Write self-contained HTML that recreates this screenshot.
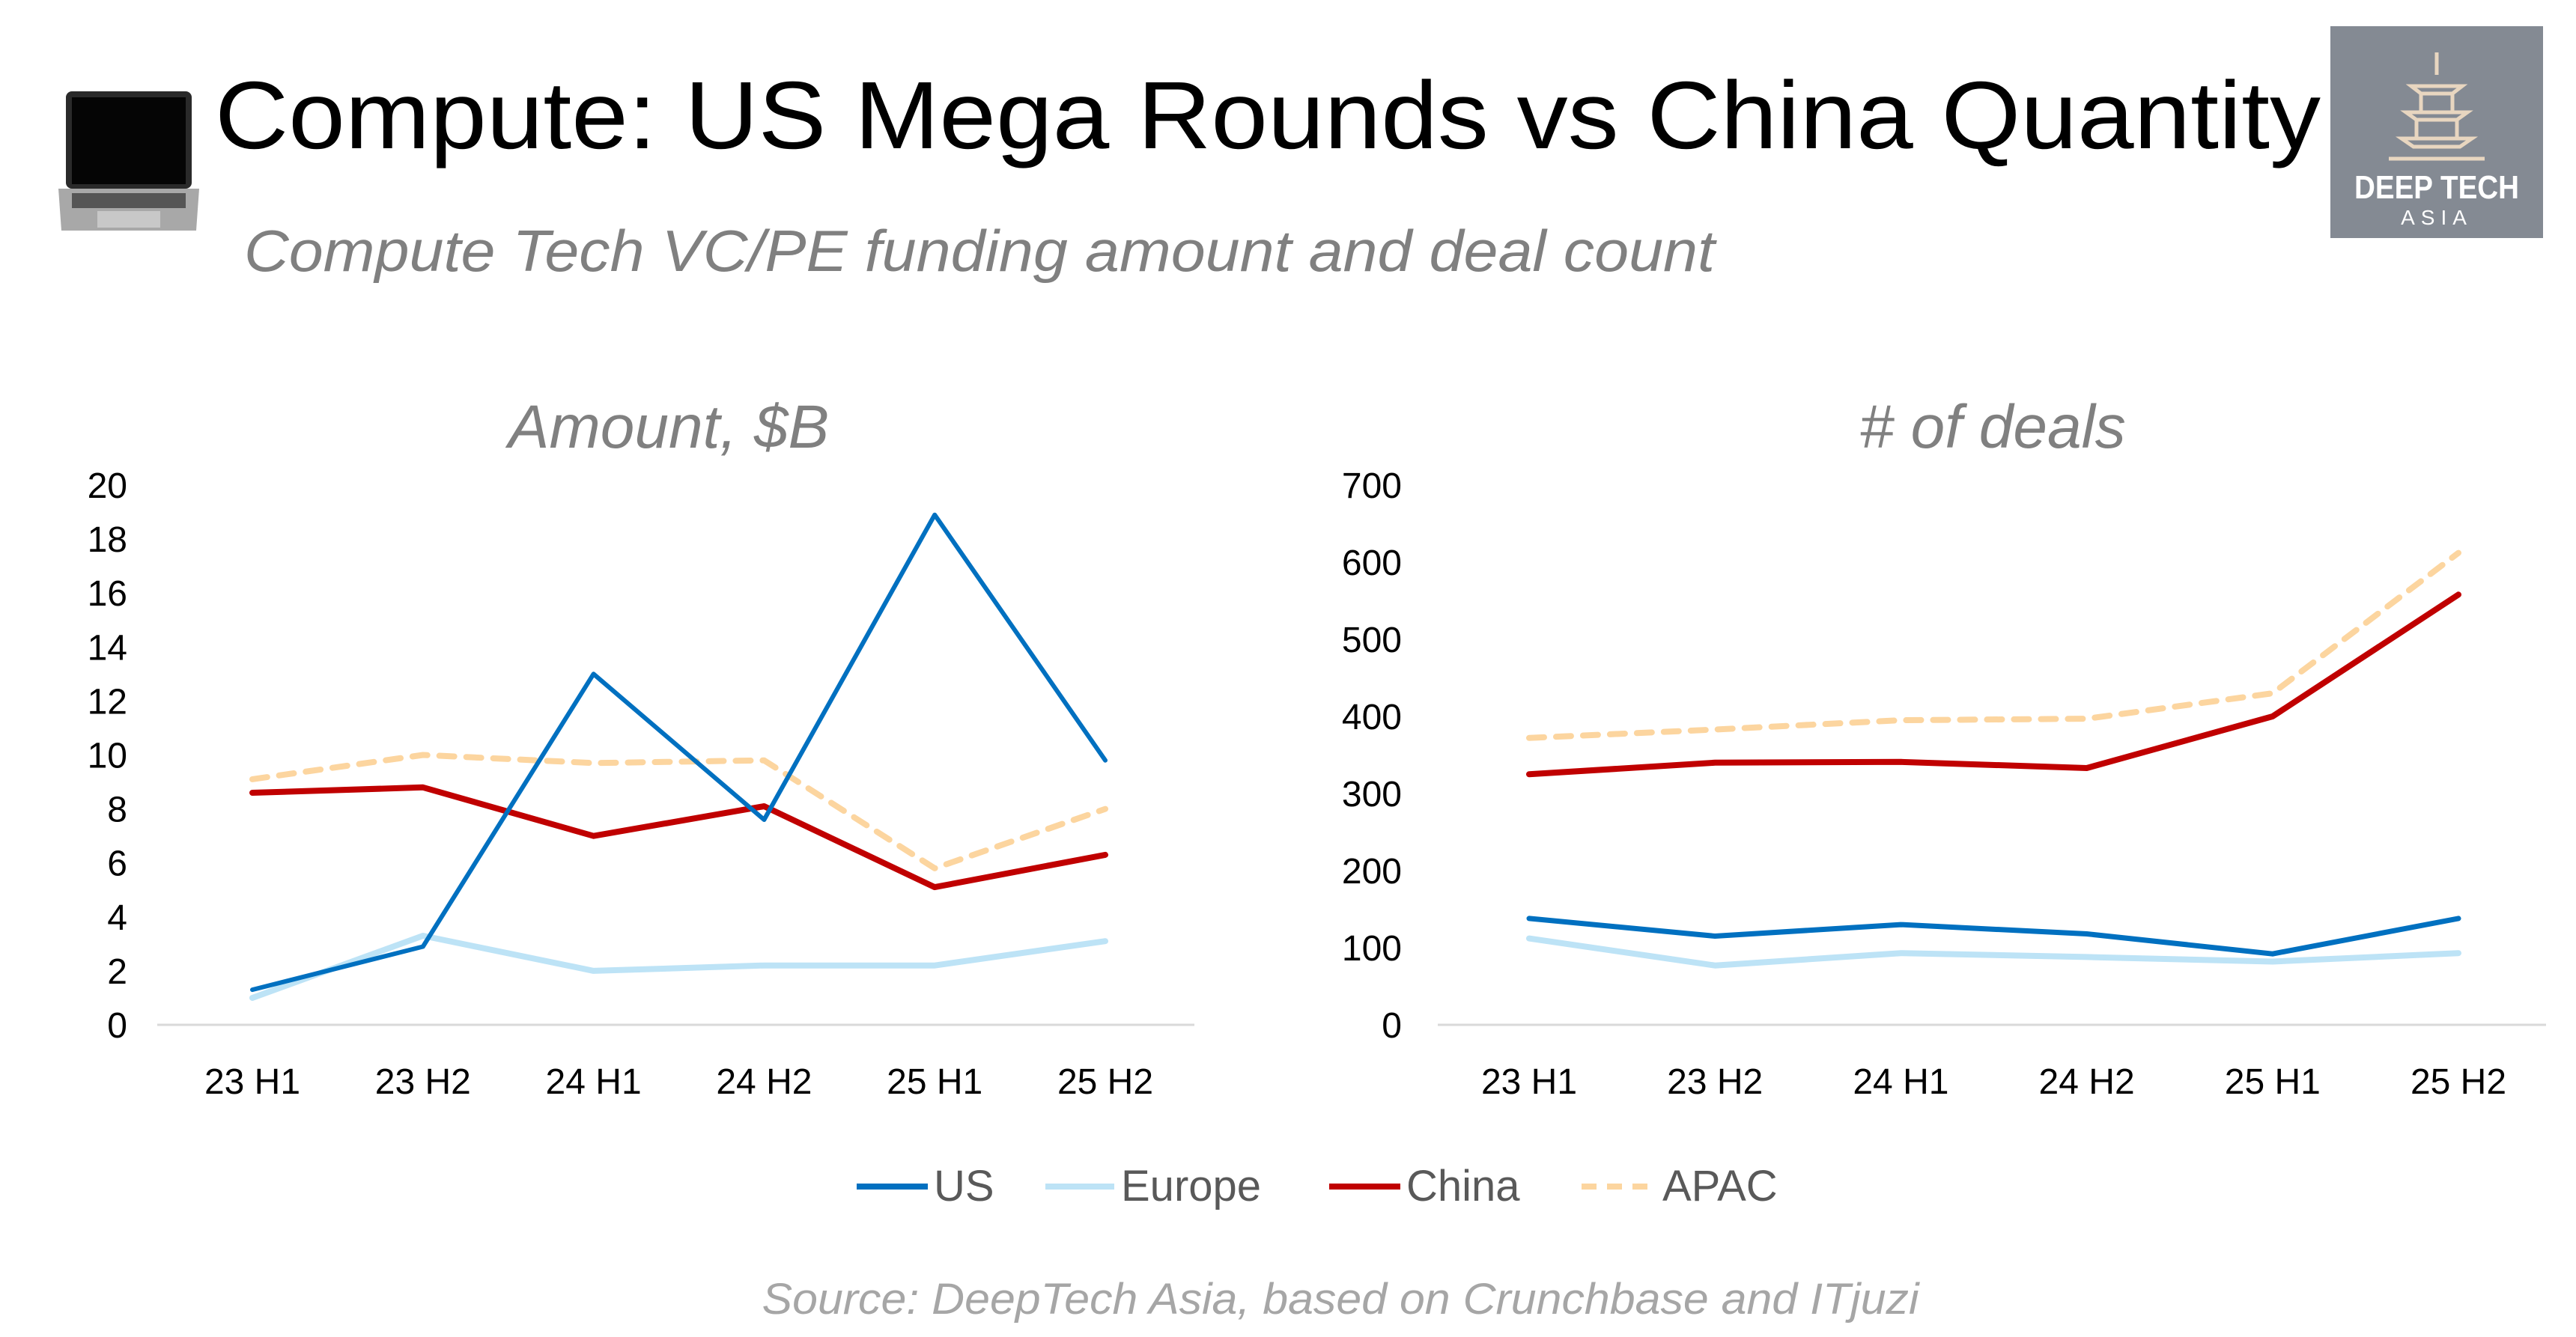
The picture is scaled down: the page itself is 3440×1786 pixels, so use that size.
<!DOCTYPE html>
<html><head><meta charset="utf-8"><style>
html,body{margin:0;padding:0;background:#fff;}
svg{display:block;font-family:"Liberation Sans",sans-serif;}
</style></head><body>
<svg id="chart" width="3440" height="1786" viewBox="0 0 3440 1786" xmlns="http://www.w3.org/2000/svg">
<g>
<rect x="88" y="122" width="168" height="130" rx="8" fill="#2a2a2a"/>
<rect x="96" y="130" width="152" height="116" fill="#050505"/>
<polygon points="78,252 266,252 262,308 82,308" fill="#a8a8a8"/>
<rect x="96" y="258" width="152" height="20" fill="#555"/>
<rect x="130" y="282" width="84" height="22" fill="#c8c8c8"/>
</g>
<text x="287" y="198" font-size="128" fill="#000" textLength="2812" lengthAdjust="spacingAndGlyphs">Compute: US Mega Rounds vs China Quantity</text>
<text x="326" y="362" font-size="78" font-style="italic" fill="#808080" textLength="1964" lengthAdjust="spacingAndGlyphs">Compute Tech VC/PE funding amount and deal count</text>
<g transform="translate(-15,0)">
<rect x="3127" y="35" width="284" height="283" fill="#848a93"/>
<path d="M3269 70 L3269 100 M3235 115 L3303 115 L3290 125 L3248 125 Z M3228 150 L3310 150 L3296 160 L3242 160 Z M3222 185 L3316 185 L3300 196 L3238 196 Z M3248 125 L3248 150 M3290 125 L3290 150 M3242 160 L3242 185 M3296 160 L3296 185 M3205 212 L3333 212" stroke="#e8d6c0" stroke-width="5" fill="none"/>
<text x="3269" y="265" font-size="44" font-weight="bold" fill="#fff" text-anchor="middle" textLength="220" lengthAdjust="spacingAndGlyphs">DEEP TECH</text>
<text x="3269" y="300" font-size="28" fill="#fff" text-anchor="middle" letter-spacing="8">ASIA</text>
</g>
<g id="left"></g>
<g id="right"></g>
<g>
<g><line x1="1144" y1="1585" x2="1239" y2="1585" stroke="#0070c0" stroke-width="8"/><text x="1247" y="1604" font-size="58" fill="#595959">US</text></g>
<g><line x1="1396" y1="1585" x2="1488" y2="1585" stroke="#bde3f6" stroke-width="8"/><text x="1497" y="1604" font-size="58" fill="#595959">Europe</text></g>
<g><line x1="1775" y1="1585" x2="1870" y2="1585" stroke="#c00000" stroke-width="8"/><text x="1878" y="1604" font-size="58" fill="#595959">China</text></g>
<g><line x1="2112" y1="1585" x2="2205" y2="1585" stroke="#fcd59f" stroke-width="8" stroke-dasharray="20,14"/><text x="2220" y="1604" font-size="58" fill="#595959">APAC</text></g>
</g>
<text x="1790" y="1755" font-size="58" font-style="italic" fill="#a6a6a6" text-anchor="middle" textLength="1545" lengthAdjust="spacingAndGlyphs">Source: DeepTech Asia, based on Crunchbase and ITjuzi</text>
</svg>
<script>
const categories = ["23 H1","23 H2","24 H1","24 H2","25 H1","25 H2"];
const amountUS = [1.3, 2.9, 13.0, 7.6, 18.9, 9.8];
const amountEurope = [1.0, 3.3, 2.0, 2.2, 2.2, 3.1];
const amountChina = [8.6, 8.8, 7.0, 8.1, 5.1, 6.3];
const amountAPAC = [9.1, 10.0, 9.7, 9.8, 5.8, 8.0];
const amountTicks = [0,2,4,6,8,10,12,14,16,18,20];
const dealsUS = [138, 115, 130, 118, 92, 138];
const dealsEurope = [112, 77, 93, 88, 82, 93];
const dealsChina = [325, 340, 341, 333, 400, 558];
const dealsAPAC = [372, 383, 395, 397, 430, 612];
const dealsTicks = [0,100,200,300,400,500,600,700];

const NS = "http://www.w3.org/2000/svg";
function mk(tag, attrs, parent){const e=document.createElementNS(NS,tag);for(const k in attrs)e.setAttribute(k,attrs[k]);parent.appendChild(e);return e;}

function drawChart(g, cfg, series, ticks, title){
  const y0=1369, y1=648;
  const maxV=ticks[ticks.length-1];
  const yS=v=>y0-(v/maxV)*(y0-y1);
  const xS=i=>cfg.x0+i*(cfg.x1-cfg.x0)/(categories.length-1);
  const t=mk("text",{x:cfg.tx,y:598,"font-size":82,"font-style":"italic",fill:"#808080","text-anchor":"middle"},g);
  t.textContent=title;
  
  
  const ax=mk("line",{x1:cfg.a0,x2:cfg.a1,y1:y0,y2:y0,stroke:"#d9d9d9","stroke-width":3},g);
  
  
  ticks.forEach(v=>{
    const tt=mk("text",{x:cfg.tickX,y:yS(v)+17,"font-size":48,fill:"#000","text-anchor":"end"},g);
    tt.textContent=v;
    
    
  });
  categories.forEach((c,i)=>{
    const ct=mk("text",{x:xS(i),y:1461,"font-size":48,fill:"#000","text-anchor":"middle"},g);
    ct.textContent=c;
    
    
  });
  series.forEach(s=>{
    const pts=s.data.map((v,i)=>xS(i).toFixed(1)+","+yS(v).toFixed(1)).join(" ");
    const attrs={points:pts,fill:"none",stroke:s.color,"stroke-width":s.w,"stroke-linejoin":"round","stroke-linecap":"round"};
    if(s.dash) attrs["stroke-dasharray"]=s.dash;
    const pl=mk("polyline",attrs,g);
    
    
  });
}
drawChart(document.getElementById("left"),{x0:337,x1:1476,a0:210,a1:1595,tickX:170,tx:893},[
  {name:"apac",data:amountAPAC,color:"#fcd59f",w:8,dash:"20,16"},
  {name:"europe",data:amountEurope,color:"#bde3f6",w:8},
  {name:"china",data:amountChina,color:"#c00000",w:8},
  {name:"us",data:amountUS,color:"#0070c0",w:6}
],amountTicks,"Amount, $B");
drawChart(document.getElementById("right"),{x0:2042,x1:3283,a0:1920,a1:3400,tickX:1872,tx:2661},[
  {name:"apac",data:dealsAPAC,color:"#fcd59f",w:8,dash:"20,16"},
  {name:"europe",data:dealsEurope,color:"#bde3f6",w:8},
  {name:"china",data:dealsChina,color:"#c00000",w:8},
  {name:"us",data:dealsUS,color:"#0070c0",w:7}
],dealsTicks,"# of deals");
</script>
</body></html>
